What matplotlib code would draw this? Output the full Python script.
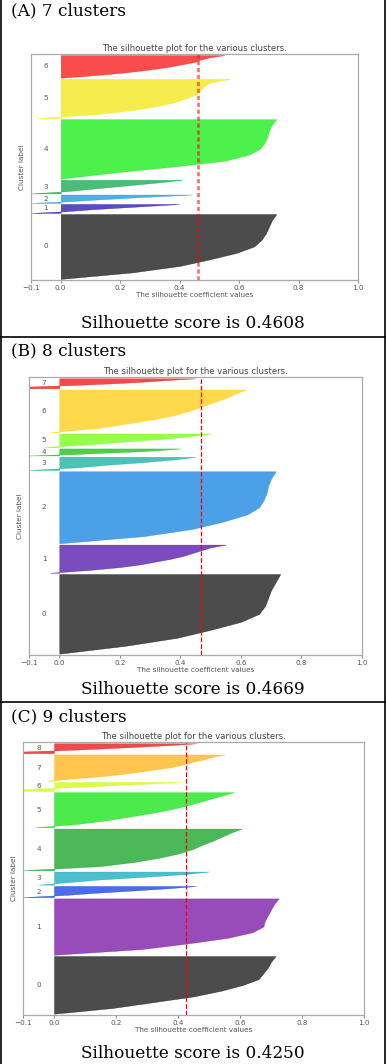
import numpy as np
import matplotlib
matplotlib.use('Agg')
import matplotlib.pyplot as plt
import matplotlib.cm as cm
from matplotlib.lines import Line2D

# silhouette values per cluster, read from bottom (lowest) to top (highest)
a_sizes = [585, 81, 75, 123, 537, 354, 204]
a_values = [
    [0.0, 0.24, 0.40, 0.50, 0.59, 0.65, 0.675, 0.69, 0.70, 0.71, 0.725],
    [-0.1, 0.02, 0.10, 0.20, 0.30, 0.40],
    [-0.1, 0.03, 0.12, 0.22, 0.33, 0.44],
    [-0.1, 0.02, 0.10, 0.18, 0.26, 0.34, 0.41],
    [0.0, 0.17, 0.37, 0.55, 0.63, 0.67, 0.685, 0.695, 0.70, 0.71, 0.725],
    [-0.08, 0.12, 0.24, 0.32, 0.38, 0.42, 0.455, 0.47, 0.48, 0.50, 0.57],
    [0.0, 0.10, 0.19, 0.26, 0.32, 0.37, 0.41, 0.45, 0.47, 0.50, 0.55],
]
a_score = 0.4608

b_sizes = [603, 213, 545, 100, 53, 103, 323, 75]
b_values = [
    [0.0, 0.22, 0.39, 0.50, 0.60, 0.66, 0.68, 0.69, 0.70, 0.715, 0.73],
    [-0.03, 0.10, 0.20, 0.27, 0.32, 0.37, 0.41, 0.44, 0.47, 0.50, 0.55],
    [0.0, 0.28, 0.44, 0.54, 0.62, 0.66, 0.675, 0.685, 0.69, 0.70, 0.715],
    [-0.1, 0.06, 0.16, 0.28, 0.38, 0.45],
    [-0.1, 0.05, 0.15, 0.27, 0.34, 0.40],
    [-0.05, 0.09, 0.21, 0.33, 0.43, 0.50],
    [-0.03, 0.13, 0.22, 0.31, 0.38, 0.43, 0.47, 0.51, 0.55, 0.58, 0.615],
    [-0.12, -0.1, 0.05, 0.18, 0.28, 0.36, 0.45],
]
b_score = 0.4669

c_sizes = [440, 430, 85, 100, 318, 268, 68, 200, 75]
c_values = [
    [0.0, 0.19, 0.32, 0.45, 0.54, 0.61, 0.66, 0.675, 0.69, 0.70, 0.715],
    [0.0, 0.28, 0.43, 0.56, 0.64, 0.675, 0.68, 0.69, 0.70, 0.71, 0.725],
    [-0.1, 0.04, 0.14, 0.26, 0.37, 0.46],
    [-0.05, 0.05, 0.15, 0.29, 0.42, 0.50],
    [-0.1, 0.15, 0.26, 0.34, 0.40, 0.445, 0.475, 0.51, 0.54, 0.57, 0.605],
    [-0.06, 0.08, 0.17, 0.24, 0.31, 0.37, 0.42, 0.46, 0.50, 0.54, 0.58],
    [-0.12, -0.1, 0.05, 0.17, 0.30, 0.41],
    [-0.02, 0.08, 0.18, 0.25, 0.31, 0.37, 0.41, 0.44, 0.48, 0.51, 0.55],
    [-0.12, -0.1, 0.05, 0.17, 0.28, 0.38, 0.46],
]
c_score = 0.4250

panel_titles = ['(A) 7 clusters', '(B) 8 clusters', '(C) 9 clusters']
xticks = [-0.1, 0.0, 0.2, 0.4, 0.6, 0.8, 1.0]

W, H = 386, 1064
fig = plt.figure(figsize=(W / 100, H / 100), dpi=100)

grey = '#555555'
small = 5.2


def silhouette_panel(ax, sizes, values, score, line_style):
    n = len(sizes)
    y_lower = 10
    for i in range(n):
        vals = np.array(values[i])
        y = np.linspace(y_lower, y_lower + sizes[i], len(vals))
        color = cm.nipy_spectral(float(i) / n)
        ax.fill_betweenx(y, 0, vals, facecolor=color, edgecolor=color, alpha=0.7, lw=0.3)
        ax.text(-0.05, y_lower + 0.5 * sizes[i], str(i), fontsize=small, color=grey,
                ha='center', va='center')
        y_lower += sizes[i] + 10
    ax.axvline(x=score, **line_style)
    ax.set_xlim(-0.1, 1.0)
    ax.set_ylim(0, sum(sizes) + (n + 1) * 10)
    ax.set_yticks([])
    ax.set_xticks(xticks)
    ax.set_xticklabels(['−0.1', '0.0', '0.2', '0.4', '0.6', '0.8', '1.0'])
    ax.tick_params(axis='x', labelsize=small, colors=grey, length=2, width=0.5, pad=1.5)
    ax.set_title('The silhouette plot for the various clusters.', fontsize=6.1,
                 color='#444444', pad=2)
    ax.set_xlabel('The silhouette coefficient values', fontsize=small, color=grey, labelpad=1)
    ax.set_ylabel('Cluster label', fontsize=small, color=grey, labelpad=4)
    for s in ax.spines.values():
        s.set_color('#aaaaaa')
        s.set_linewidth(0.9)


def px_box(left, right, top, bottom):
    return [left / W, 1 - bottom / H, (right - left) / W, (bottom - top) / H]


ax_a = fig.add_axes(px_box(31, 358, 54, 280))
silhouette_panel(ax_a, a_sizes, a_values, a_score,
                 dict(color='red', linestyle=(0, (1.5, 1)), lw=2.0, alpha=0.55))
ax_b = fig.add_axes(px_box(29, 362, 377, 655))
silhouette_panel(ax_b, b_sizes, b_values, b_score,
                 dict(color='red', linestyle='--', lw=0.9))
ax_c = fig.add_axes(px_box(23, 364, 742, 1015))
silhouette_panel(ax_c, c_sizes, c_values, c_score,
                 dict(color='red', linestyle='--', lw=0.9))

# panel headings and scores
serif = 'DejaVu Serif'
for title, ypx in zip(panel_titles, [11, 351, 717]):
    fig.text(11 / W, 1 - ypx / H, title, family=serif, fontsize=12.2, ha='left', va='center')
for score, ypx in zip([a_score, b_score, c_score], [323, 690, 1053]):
    fig.text(193 / W, 1 - ypx / H, 'Silhouette score is %.4f' % score, family=serif,
             fontsize=12.2, ha='center', va='center')

# table borders
for ypx in [337, 702]:
    fig.add_artist(Line2D([0, 1], [1 - ypx / H] * 2, color='black', lw=1.2))
for xpx in [0.6, 384.5]:
    fig.add_artist(Line2D([xpx / W] * 2, [0, 1], color='black', lw=1.2))

fig.savefig('out.png', dpi=100)
